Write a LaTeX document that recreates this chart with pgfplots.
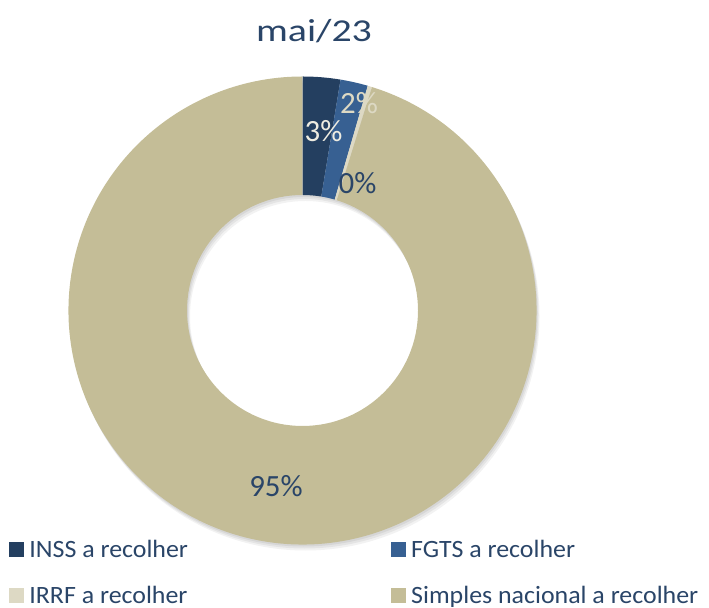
\documentclass[border=0pt]{standalone}
\usepackage{pgfplots}
\pgfplotsset{compat=1.18}
\usepackage{pgfplotstable}
\usepackage{fontspec}
\setmainfont{Carlito}
\newfontfamily\titlefont[FakeStretch=1.25]{Carlito}
\newfontfamily\legfont[FakeStretch=1.04]{Carlito}
\pgfkeys{/pgf/number format/assume math mode=true}
\definecolor{cINSS}{HTML}{243F60}
\definecolor{cFGTS}{HTML}{376092}
\definecolor{cIRRF}{HTML}{DDD9C4}
\definecolor{cSimples}{HTML}{C4BD97}
\definecolor{ctext}{HTML}{2A4568}
\definecolor{clight}{HTML}{EEECE1}

\pgfplotstableread{
name value
INSS 2.6
FGTS 1.9
IRRF 0.3
Simples 95.2
}\datatable
\pgfplotstablegetelem{0}{value}\of\datatable \let\vA\pgfplotsretval
\pgfplotstablegetelem{1}{value}\of\datatable \let\vB\pgfplotsretval
\pgfplotstablegetelem{2}{value}\of\datatable \let\vC\pgfplotsretval
\pgfplotstablegetelem{3}{value}\of\datatable \let\vD\pgfplotsretval
\pgfmathsetmacro\tot{\vA+\vB+\vC+\vD}
\pgfmathsetmacro\aA{90}
\pgfmathsetmacro\aB{\aA-360*(\vA/\tot)}
\pgfmathsetmacro\aC{\aB-360*(\vB/\tot)}
\pgfmathsetmacro\aD{\aC-360*(\vC/\tot)}
\pgfmathsetmacro\aE{\aD-360*(\vD/\tot)}
\def\cx{302.5}\def\cy{297.5}\def\Ro{234}\def\Ri{115.5}
\newcommand\donutwedge[3]{%
  \fill[#3] ([shift={(#1:\Ro bp)}]axis cs:\cx,\cy) arc[start angle=#1,end angle=#2,radius=\Ro bp]
    -- ([shift={(#2:\Ri bp)}]axis cs:\cx,\cy) arc[start angle=#2,end angle=#1,radius=\Ri bp] -- cycle;}
\newcommand\ringshadow[3]{%
  \fill[black,opacity=#3,even odd rule] ([shift={(#1bp,#2bp)}]axis cs:\cx,\cy) circle[radius=\Ro bp]
    ([shift={(#1bp,#2bp)}]axis cs:\cx,\cy) circle[radius=\Ri bp];}
\pgfplotsset{sqkey/.style={legend image code/.code={\fill (0bp,-7bp) rectangle (14bp,7bp); \path[draw=none,fill=none] (0bp,0bp) -- (18bp,0bp);}}}
\begin{document}%
\begin{tikzpicture}
\begin{axis}[
  x=1bp, y=1bp, xmin=0, xmax=709, ymin=0, ymax=608,
  hide axis, clip=false,
  legend columns=2,
  legend cell align=left,
  legend style={at={(axis cs:9,70)}, anchor=north west, draw=none, fill=none,
    inner sep=0pt, font=\legfont\fontsize{25}{30}\selectfont, text=ctext,
    nodes={inner sep=2bp},
    row sep=23bp,
    /tikz/every even column/.append style={column sep=201bp}},
]
\addlegendimage{cINSS, sqkey}
\addlegendentry{INSS a recolher}
\addlegendimage{cFGTS, sqkey}
\addlegendentry{FGTS a recolher}
\addlegendimage{cIRRF, sqkey}
\addlegendentry{IRRF a recolher}
\addlegendimage{cSimples, sqkey}
\addlegendentry{Simples nacional a recolher}

\coordinate (BL) at (axis cs:0,0);
\coordinate (TR) at (axis cs:709,608);
\ringshadow{1}{-2}{0.06}
\ringshadow{2}{-4}{0.06}
\ringshadow{3}{-6}{0.05}
\donutwedge{\aA}{\aB}{cINSS}
\donutwedge{\aB}{\aC}{cFGTS}
\donutwedge{\aC}{\aD}{cIRRF}
\donutwedge{\aD}{\aE}{cSimples}

\node[text=ctext, font=\titlefont\fontsize{32}{36}\selectfont, anchor=base] at (axis cs:314,566.5) {mai/23};
\node[text=clight, font=\fontsize{31}{36}\selectfont] at (axis cs:323.5,477) {\pgfmathprintnumber[fixed,precision=0]{\vA}\%};
\node[text=cIRRF, font=\fontsize{31}{36}\selectfont] at (axis cs:359,505) {\pgfmathprintnumber[fixed,precision=0]{\vB}\%};
\node[text=ctext, font=\fontsize{31}{36}\selectfont] at (axis cs:357.5,425) {\pgfmathprintnumber[fixed,precision=0]{\vC}\%};
\node[text=ctext, font=\fontsize{31}{36}\selectfont] at (axis cs:276,122) {\pgfmathprintnumber[fixed,precision=0]{\vD}\%};
\end{axis}
\pgfresetboundingbox
\path[use as bounding box] (BL) rectangle (TR);
\end{tikzpicture}%
\end{document}
